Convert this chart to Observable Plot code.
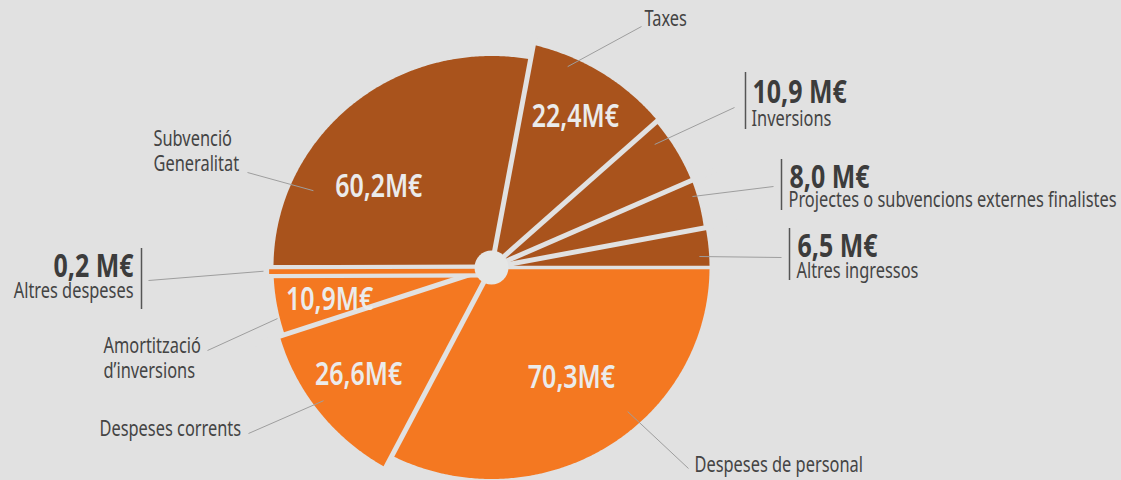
<!DOCTYPE html>
<html><head><meta charset="utf-8">
<script src="https://cdn.jsdelivr.net/npm/d3@7"></script>
<script src="https://cdn.jsdelivr.net/npm/@observablehq/plot@0.6"></script>
<style>
html,body{margin:0;padding:0;background:#e1e1e1;}
#chart svg{display:block;}
</style></head><body><div id="chart"></div>
<script>
// ---- data ----
const incomeLabels = ["Subvenció Generalitat", "Taxes", "Inversions", "Projectes o subvencions externes finalistes", "Altres ingressos"];
const incomeValues = [60.2, 22.4, 10.9, 8.0, 6.5];
const expenseLabels = ["Despeses de personal", "Despeses corrents", "Amortització d’inversions", "Altres despeses"];
const expenseValues = [70.3, 26.6, 10.9, 0.2];

// ---- style / layout ----
const bg = "#e1e1e1", brown = "#a9531c", orange = "#f47821";
const FONT = "'Noto Sans','Open Sans',sans-serif";
const SX = 0.78; // horizontal condensing of text
const cx = 491, cy = 267, rx = 218, ry = 211.5;
// outer radius factor at start / end of each slice
const outerK = [[1,1],[1.07,1.03],[1.02,1.005],[1.007,0.992],[1,1],[1,1],[1.063,1.024],[1,1],[1.02,1.02]];
// inner value label placement: [angle offset from mid (deg), radius factor]
const innerPos = [[-13.6,0.644],[-0.7,0.811],null,null,null,[-3.8,0.636],[0.9,0.793],[-2.1,0.758],null];
// leader line start (polar) and end (px)
const leaderStart = [[-26.2,0.894],[-8.8,1.012],[-4.6,0.948],[-2.5,0.981],[2.3,0.955],[-11.1,0.924],[1.4,0.995],[-4.4,1.011],[-0.8,1.046]];
const leaderEnd = [[247,172],[641,26],[734,107],[773,186],[781,257],[688,468],[248,433],[207,350],[148,280]];
// outer labels: kind "name" (lines) or "block" (value + name with bar)
const outerLabel = [
  {kind:"name", x:153, y:145, split:true, anchor:"start"},
  {kind:"name", x:644, y:25, anchor:"start"},
  {kind:"block", x:752, vy:102, ny:125, bx:745, by1:72, by2:129, anchor:"start"},
  {kind:"block", x:789, vy:187, ny:206, bx:781, by1:159, by2:210, anchor:"start"},
  {kind:"block", x:797, vy:256, ny:277, bx:789, by1:228, by2:280, anchor:"start"},
  {kind:"name", x:694, y:471, anchor:"start"},
  {kind:"name", x:99, y:435, anchor:"start"},
  {kind:"name", x:103, y:352, split:true, anchor:"start"},
  {kind:"block", x:133, vy:276, ny:297, bx:141, by1:248, by2:309, anchor:"end"}
];

// ---- geometry ----
const names = [...incomeLabels, ...expenseLabels];
const values = [...incomeValues, ...expenseValues];
const nIn = incomeLabels.length;
const total = d3.sum(values);
let acc = -90;
const slices = values.map((v, i) => {
  const a0 = acc; acc += v / total * 360;
  return {i, name: names[i], value: v, a0, a1: acc, mid: (a0 + acc) / 2, fill: i < nIn ? brown : orange};
});
const pt = (deg, k) => { const a = deg * Math.PI / 180; return [cx + rx * k * Math.sin(a), cy - ry * k * Math.cos(a)]; };
const fmt = v => v.toFixed(1).replace(".", ",");

const slicePts = slices.filter(s => s.value >= 1).flatMap(s => {
  const [kS, kE] = outerK[s.i];
  const n = Math.max(2, Math.ceil((s.a1 - s.a0) / 0.5));
  const pts = [{name: s.name, fill: s.fill, x: cx, y: cy}];
  for (let j = 0; j <= n; j++) {
    const t = j / n;
    const [x, y] = pt(s.a0 + t * (s.a1 - s.a0), kS + t * (kE - kS));
    pts.push({name: s.name, fill: s.fill, x, y});
  }
  return pts;
});

const gaps = slices.map(s => {
  const [x2, y2] = pt(s.a0, 1.15);
  return {x1: cx, y1: cy, x2, y2, w: Math.abs(((s.a0 % 360) + 360) % 360 - 90) < 0.01 ? 3.5 : 5};
});
const thin = slices.filter(s => s.value < 1).map(s => {
  const [x2, y2] = pt(s.mid, outerK[s.i][0]);
  const [bx2, by2] = pt(s.mid, 1.15);
  return {x1: cx, y1: cy, x2, y2, bx2, by2, fill: s.fill};
});

const innerLabels = slices.filter(s => innerPos[s.i]).map(s => {
  const [dA, k] = innerPos[s.i];
  const [x, y] = pt(s.mid + dA, k);
  return {x, y, text: fmt(s.value) + "M€"};
});

const leaders = slices.map(s => {
  const [dA, k] = leaderStart[s.i];
  const [x1, y1] = pt(s.mid + dA, k);
  const [x2, y2] = leaderEnd[s.i];
  return {x1, y1, x2, y2};
});

const nameTexts = [], valueTexts = [], bars = [];
slices.forEach(s => {
  const L = outerLabel[s.i];
  if (L.kind === "name") {
    const lines = L.split ? [s.name.split(" ")[0], s.name.split(" ").slice(1).join(" ")] : [s.name];
    lines.forEach((t, j) => nameTexts.push({x: L.x, y: L.y + j * 25.5, text: t, anchor: L.anchor}));
  } else {
    valueTexts.push({x: L.x, y: L.vy, text: fmt(s.value) + " M€", anchor: L.anchor});
    nameTexts.push({x: L.x + (L.anchor === "start" ? -1 : 0), y: L.ny, text: s.name, anchor: L.anchor});
    bars.push({x: L.bx, y1: L.by1, y2: L.by2});
  }
});

const nameStyle = {x: "x", y: "y", text: "text", fill: "#444", fontSize: 21, fontFamily: FONT, lineAnchor: "bottom"};
const valueStyle = {x: "x", y: "y", text: "text", fill: "#3c3c3c", fontSize: 32, fontWeight: "bold", fontFamily: FONT, lineAnchor: "bottom"};

const chart = Plot.plot({
  width: 1121, height: 480,
  margin: 0,
  x: {domain: [0, 1121], range: [0, 1121], axis: null},
  y: {domain: [0, 480], range: [0, 480], axis: null},
  color: {type: "identity"},
  style: {background: bg, fontFamily: FONT},
  marks: [
    Plot.line(slicePts, {x: "x", y: "y", z: "name", fill: "fill", stroke: "none"}),
    Plot.link(gaps, {x1: "x1", y1: "y1", x2: "x2", y2: "y2", stroke: bg, strokeWidth: "w"}),
    Plot.link(thin, {x1: "x1", y1: "y1", x2: "bx2", y2: "by2", stroke: bg, strokeWidth: 13, dy: 3.5}),
    Plot.link(thin, {x1: "x1", y1: "y1", x2: "x2", y2: "y2", stroke: "fill", strokeWidth: 4.6, dy: 3.5}),
    Plot.dot([{x: cx, y: cy}], {x: "x", y: "y", r: 17, fill: "#e5e6e5", stroke: "none"}),
    Plot.link(leaders, {x1: "x1", y1: "y1", x2: "x2", y2: "y2", stroke: "#9e9e9e", strokeWidth: 1}),
    Plot.ruleX(bars, {x: "x", y1: "y1", y2: "y2", stroke: "#555", strokeWidth: 1.5}),
    Plot.text(innerLabels, {x: "x", y: "y", text: "text", fill: "#ebebeb", fontSize: 32, fontWeight: 600, fontFamily: FONT, lineAnchor: "middle"}),
    Plot.text(nameTexts.filter(d => d.anchor === "start"), {...nameStyle, textAnchor: "start"}),
    Plot.text(nameTexts.filter(d => d.anchor === "end"), {...nameStyle, textAnchor: "end"}),
    Plot.text(valueTexts.filter(d => d.anchor === "start"), {...valueStyle, textAnchor: "start"}),
    Plot.text(valueTexts.filter(d => d.anchor === "end"), {...valueStyle, textAnchor: "end"})
  ]
});
// condense text horizontally around its anchor (no condensed fonts available)
d3.select(chart).selectAll("text").each(function() {
  const t = this.getAttribute("transform");
  if (t && t.includes("translate")) {
    this.setAttribute("transform", t + ` scale(${SX},1)`);
  } else {
    const x = +(this.getAttribute("x") || 0), y = +(this.getAttribute("y") || 0);
    this.setAttribute("transform", `${t || ""} translate(${x},${y}) scale(${SX},1) translate(${-x},${-y})`);
  }
});
document.getElementById("chart").appendChild(chart);
</script>
</body></html>
